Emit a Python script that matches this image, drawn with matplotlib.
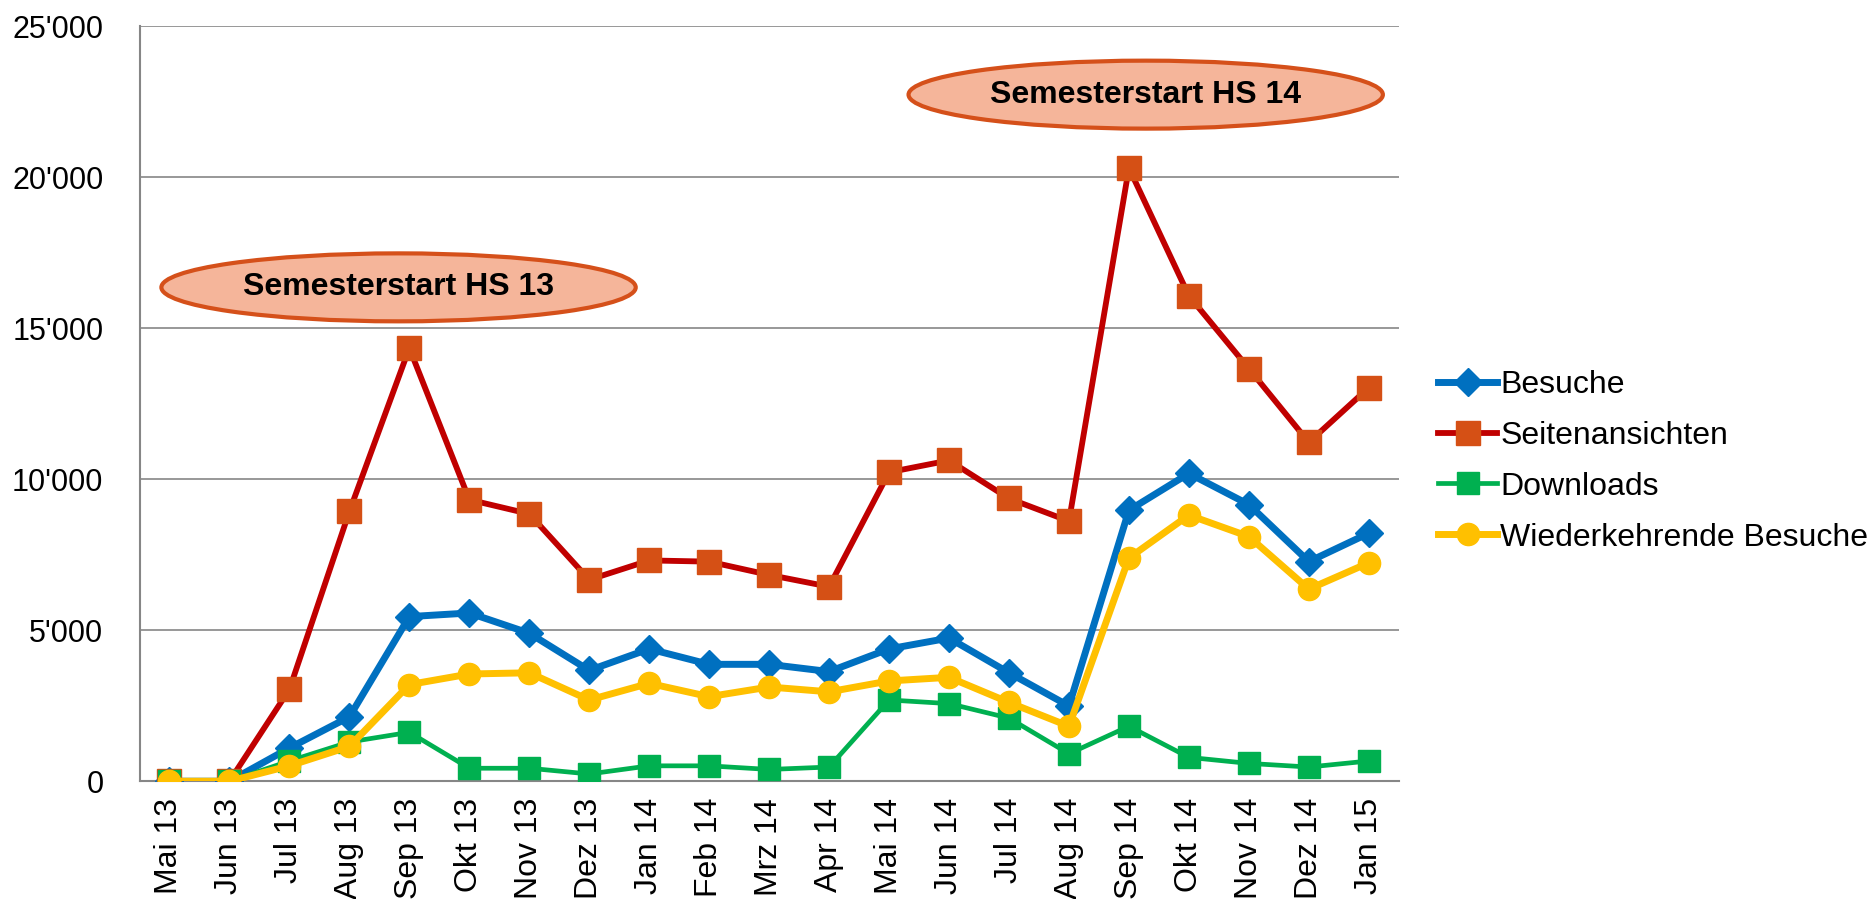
import matplotlib
matplotlib.use('Agg')
import matplotlib.pyplot as plt
from matplotlib.patches import Ellipse
from matplotlib.ticker import FuncFormatter, MultipleLocator
import numpy as np

plt.rcParams['font.family'] = ['Liberation Sans', 'DejaVu Sans']

months = ['Mai 13', 'Jun 13', 'Jul 13', 'Aug 13', 'Sep 13', 'Okt 13', 'Nov 13',
          'Dez 13', 'Jan 14', 'Feb 14', 'Mrz 14', 'Apr 14', 'Mai 14', 'Jun 14',
          'Jul 14', 'Aug 14', 'Sep 14', 'Okt 14', 'Nov 14', 'Dez 14', 'Jan 15']

besuche = [0, 0, 1100, 2130, 5450, 5570, 4900, 3670, 4380, 3870, 3870, 3630,
           4380, 4740, 3590, 2490, 8970, 10190, 9160, 7270, 8210]
seitenansichten = [0, 0, 3040, 8930, 14340, 9320, 8850, 6670, 7310, 7270, 6830,
                   6440, 10230, 10620, 9360, 8610, 20300, 16070, 13660, 11220, 13030]
downloads = [0, 0, 670, 1300, 1620, 430, 430, 240, 510, 510, 390, 470,
             2690, 2570, 2090, 910, 1820, 790, 590, 470, 670]
wiederkehrend = [0, 0, 510, 1150, 3200, 3550, 3590, 2690, 3240, 2800, 3120, 2960,
                 3320, 3440, 2610, 1820, 7390, 8810, 8100, 6360, 7230]

# annotations: (text, month index of centre, value of centre)
notes = [('Semesterstart HS 13', 3.82, 16350),
         ('Semesterstart HS 14', 16.28, 22730)]

fig = plt.figure(figsize=(18.7, 8.99), dpi=100)
ax = fig.add_axes([0.0746, 0.131, 0.6734, 0.840])

x = np.arange(len(months))
ax.plot(x, besuche, color='#0070C0', lw=5, marker='D', ms=14,
        label='Besuche', zorder=3)
ax.plot(x, seitenansichten, color='#C00000', lw=4.2, marker='s', ms=17,
        mfc='#D55015', mec='#D55015', label='Seitenansichten', zorder=4)
ax.plot(x, downloads, color='#00B050', lw=3.4, marker='s', ms=16,
        label='Downloads', zorder=5)
ax.plot(x, wiederkehrend, color='#FFC000', lw=5, marker='o', ms=16,
        label='Wiederkehrende Besuche', zorder=6)

for txt, cx, cy in notes:
    e = Ellipse((cx, cy), 7.91, 2250, facecolor='#F5B59A', edgecolor='#D5501A',
                lw=3, zorder=7)
    ax.add_patch(e)
    ax.text(cx, cy, txt, ha='center', va='center', fontsize=23,
            fontweight='bold', zorder=8)

ax.set_xlim(-0.5, len(months) - 0.5)
ax.set_ylim(0, 25000)
ax.yaxis.set_major_locator(MultipleLocator(5000))
ax.yaxis.set_major_formatter(FuncFormatter(lambda v, p: f"{int(v):,}".replace(',', "'")))
ax.set_xticks(x)
ax.set_xticklabels(months, rotation=90)
ax.tick_params(axis='x', length=0, labelsize=23, pad=12)
ax.tick_params(axis='y', length=0, labelsize=22, pad=26)
ax.grid(axis='y', color='#868686', lw=1.2)
ax.set_axisbelow(True)
for s in ['top', 'right']:
    ax.spines[s].set_visible(False)
for s in ['left', 'bottom']:
    ax.spines[s].set_color('#868686')
    ax.spines[s].set_linewidth(1.5)

fig.legend(loc='center left', bbox_to_anchor=(0.769, 0.487), frameon=False,
           fontsize=23, handlelength=1.85, handletextpad=0.1, labelspacing=0.655,
           borderpad=0, borderaxespad=0)

fig.savefig('out.png', dpi=100)
